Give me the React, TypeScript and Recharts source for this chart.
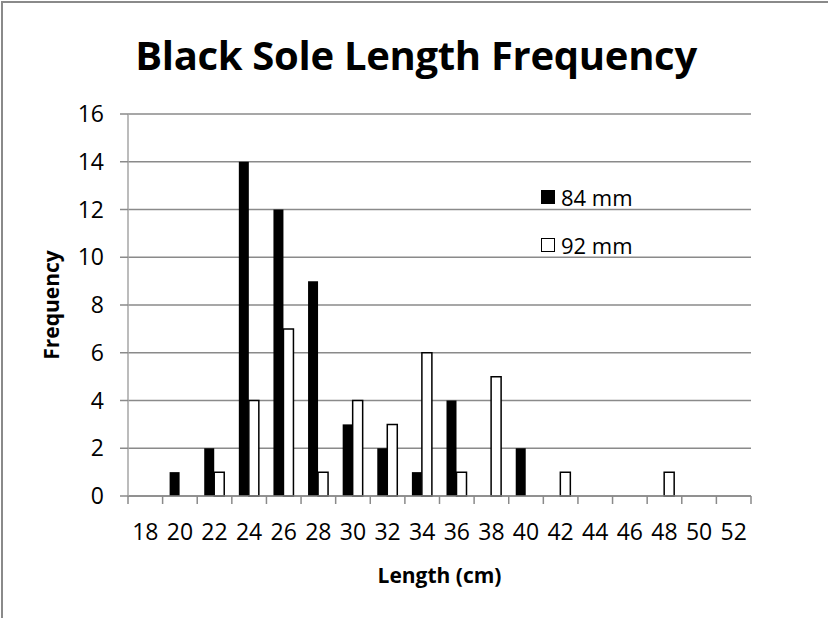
import { BarChart, Bar, XAxis, YAxis, CartesianGrid, Label } from 'recharts';

const lengths = ['18', '20', '22', '24', '26', '28', '30', '32', '34', '36', '38', '40', '42', '44', '46', '48', '50', '52'];
const freq84 = [0, 1, 2, 14, 12, 9, 3, 2, 1, 4, 0, 2, 0, 0, 0, 0, 0, 0];
const freq92 = [0, 0, 1, 4, 7, 1, 4, 3, 6, 1, 5, 0, 1, 0, 0, 1, 0, 0];
const yTicks = [0, 2, 4, 6, 8, 10, 12, 14, 16];
const seriesNames = ['84 mm', '92 mm'];

const data = lengths.map((len, i) => ({
  length: len,
  mm84: freq84[i],
  mm92: freq92[i],
}));

const FONT = '"Open Sans", sans-serif';
const GREY = '#8a8a8a';

const CategoryTick = (props: any) => {
  const { x, y, payload, width, visibleTicksCount, index } = props;
  const band = width / visibleTicksCount;
  const left = x - band / 2;
  return (
    <g>
      <line x1={left} y1={y - 8} x2={left} y2={y} stroke={GREY} strokeWidth={1.5} />
      {index === visibleTicksCount - 1 && (
        <line x1={left + band} y1={y - 8} x2={left + band} y2={y} stroke={GREY} strokeWidth={1.5} />
      )}
      <text x={x} y={y + 36} textAnchor="middle" fontFamily={FONT} fontSize={23} fill="#000">
        {payload.value}
      </text>
    </g>
  );
};

export default function App() {
  return (
    <div
      style={{
        position: 'fixed',
        left: 0,
        top: 0,
        width: 828,
        height: 618,
        background: '#fff',
        overflow: 'hidden',
      }}
    >
      <div
        style={{
          position: 'absolute',
          left: 1,
          top: 1,
          width: 827,
          height: 617,
          borderTop: `2px solid ${GREY}`,
          borderLeft: `2px solid ${GREY}`,
        }}
      />
      <div
        style={{
          position: 'absolute',
          left: 0,
          width: 828,
          top: 27,
          textAlign: 'center',
          fontFamily: FONT,
          fontWeight: 700,
          fontSize: 40,
          letterSpacing: -0.3,
          color: '#000',
          paddingLeft: 2,
        }}
      >
        Black Sole Length Frequency
      </div>
      <BarChart
        width={828}
        height={618}
        data={data}
        margin={{ top: 114, right: 77, bottom: 0, left: 0 }}
        barGap={0}
        barSize={10}
        style={{ position: 'absolute', left: 0, top: 0 }}
      >
        <CartesianGrid horizontal vertical={false} stroke={GREY} strokeWidth={1.5} />
        <XAxis
          dataKey="length"
          height={122}
          axisLine={{ stroke: GREY, strokeWidth: 1.5 }}
          tickLine={false}
          interval={0}
          tick={<CategoryTick />}
        >
          <Label
            value="Length (cm)"
            position="insideTop"
            offset={72}
            style={{ fontFamily: FONT, fontWeight: 700, fontSize: 21, fill: '#000' }}
          />
        </XAxis>
        <YAxis
          width={128}
          domain={[0, 16]}
          ticks={yTicks}
          interval={0}
          axisLine={{ stroke: '#a6a6a6', strokeWidth: 1.5 }}
          tickLine={{ stroke: GREY, strokeWidth: 1.5 }}
          tickSize={8}
          tickMargin={16}
          tick={{ fontFamily: FONT, fontSize: 23, fill: '#000' }}
        >
          <Label
            value="Frequency"
            angle={-90}
            position="insideLeft"
            offset={52}
            style={{ fontFamily: FONT, fontWeight: 700, fontSize: 21, fill: '#000', textAnchor: 'middle' }}
          />
        </YAxis>
        <Bar dataKey="mm84" name={seriesNames[0]} fill="#000" isAnimationActive={false} />
        <Bar dataKey="mm92" name={seriesNames[1]} fill="#fff" stroke="#000" strokeWidth={1.5} isAnimationActive={false} />
      </BarChart>
      <div
        style={{
          position: 'absolute',
          left: 541,
          top: 182,
          fontFamily: FONT,
          fontSize: 22,
          color: '#000',
        }}
      >
        {seriesNames.map((name, i) => (
          <div key={name} style={{ display: 'flex', alignItems: 'center', height: 30, marginBottom: i === 0 ? 18 : 0 }}>
            <span
              style={{
                display: 'inline-block',
                width: 12,
                height: 12,
                background: i === 0 ? '#000' : '#fff',
                border: '1.5px solid #000',
                marginRight: 6,
              }}
            />
            <span>{name}</span>
          </div>
        ))}
      </div>
    </div>
  );
}
